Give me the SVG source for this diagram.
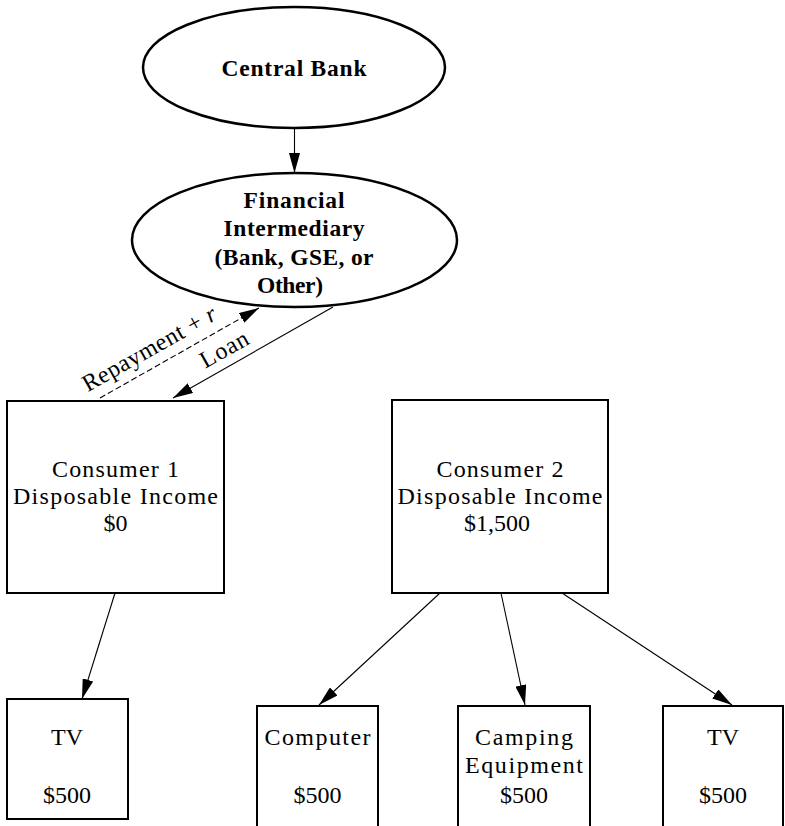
<svg xmlns="http://www.w3.org/2000/svg" width="785" height="826" viewBox="0 0 785 826">
  <style>
    text { font-family: "Liberation Serif", "DejaVu Serif", serif; font-size: 24px; fill: #000; text-anchor: middle; }
    .bold { font-weight: bold; font-size: 23.5px; }
    .node { fill: #fff; stroke: #000; stroke-width: 2.5; }
    .box { fill: #fff; stroke: #000; stroke-width: 2; }
    .edge { fill: none; stroke: #000; stroke-width: 1.1; marker-end: url(#arrow); }
    .dashed { stroke-dasharray: 6 3; }
  </style>
  <defs>
    <marker id="arrow" markerUnits="userSpaceOnUse" markerWidth="20" markerHeight="11" refX="20" refY="5.5" orient="auto">
      <path d="M0,0 L20,5.5 L0,11 z" fill="#000"/>
    </marker>
  </defs>
  <rect width="785" height="826" fill="#fff"/>

  <!-- connectors -->
  <g id="connectors">
    <line class="edge" x1="294.5" y1="128" x2="294.5" y2="173"/>
    <line class="edge dashed" x1="100" y1="398" x2="259" y2="308"/>
    <line class="edge" x1="333" y1="307" x2="173" y2="398"/>
    <line class="edge" x1="115" y1="593" x2="82" y2="699"/>
    <line class="edge" x1="440" y1="593" x2="319" y2="705"/>
    <line class="edge" x1="501" y1="593" x2="525" y2="705"/>
    <line class="edge" x1="562" y1="593" x2="732" y2="705"/>
    <text transform="translate(153,355.5) rotate(-29.4)" textLength="150" lengthAdjust="spacing">Repayment + <tspan font-style="italic">r</tspan></text>
    <text transform="translate(228,356) rotate(-29.4)" textLength="52" lengthAdjust="spacing">Loan</text>
  </g>

  <g id="central-bank">
    <ellipse class="node" cx="294" cy="67.5" rx="151" ry="60.5"/>
    <text class="bold" x="294" y="76" textLength="145" lengthAdjust="spacing">Central Bank</text>
  </g>

  <g id="financial-intermediary">
    <ellipse class="node" cx="294.5" cy="240" rx="162.5" ry="67"/>
    <text class="bold" x="294" y="208" textLength="101" lengthAdjust="spacing">Financial</text>
    <text class="bold" x="294" y="236" textLength="141" lengthAdjust="spacing">Intermediary</text>
    <text class="bold" x="294" y="265" textLength="159" lengthAdjust="spacing">(Bank, GSE, or</text>
    <text class="bold" x="290" y="293" textLength="66" lengthAdjust="spacing">Other)</text>
  </g>

  <g id="consumer-1">
    <rect class="box" x="7" y="401" width="217" height="192"/>
    <text x="115.5" y="477" textLength="127" lengthAdjust="spacing">Consumer 1</text>
    <text x="115.5" y="504" textLength="205" lengthAdjust="spacing">Disposable Income</text>
    <text x="115.5" y="531">$0</text>
  </g>

  <g id="consumer-2">
    <rect class="box" x="392" y="400" width="216" height="193"/>
    <text x="500" y="477" textLength="127" lengthAdjust="spacing">Consumer 2</text>
    <text x="500" y="504" textLength="205" lengthAdjust="spacing">Disposable Income</text>
    <text x="497" y="531">$1,500</text>
  </g>

  <g id="tv-1">
    <rect class="box" x="7" y="699" width="121" height="120"/>
    <text x="67" y="745">TV</text>
    <text x="67" y="803">$500</text>
  </g>

  <g id="computer">
    <rect class="box" x="257" y="706" width="121" height="130"/>
    <text x="317.5" y="745" textLength="106" lengthAdjust="spacing">Computer</text>
    <text x="317.5" y="803">$500</text>
  </g>

  <g id="camping-equipment">
    <rect class="box" x="458" y="706" width="132" height="130"/>
    <text x="524" y="745" textLength="98" lengthAdjust="spacing">Camping</text>
    <text x="524" y="773" textLength="118" lengthAdjust="spacing">Equipment</text>
    <text x="524" y="803">$500</text>
  </g>

  <g id="tv-2">
    <rect class="box" x="663" y="706" width="120" height="130"/>
    <text x="723" y="745">TV</text>
    <text x="723" y="803">$500</text>
  </g>
</svg>
